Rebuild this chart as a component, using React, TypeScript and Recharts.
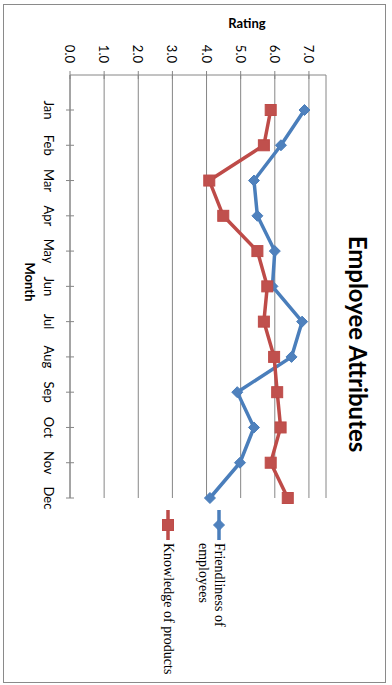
import React from 'react';
import { LineChart, Line, XAxis, YAxis, CartesianGrid, Legend, Label } from 'recharts';

const months = ['Jan', 'Feb', 'Mar', 'Apr', 'May', 'Jun', 'Jul', 'Aug', 'Sep', 'Oct', 'Nov', 'Dec'];
const friendliness = [6.87, 6.18, 5.39, 5.49, 6.0, 5.93, 6.8, 6.49, 4.9, 5.39, 4.98, 4.1];
const knowledge = [5.88, 5.68, 4.08, 4.49, 5.49, 5.78, 5.68, 5.98, 6.07, 6.17, 5.88, 6.38];
const ratingTicks = [0, 1, 2, 3, 4, 5, 6, 7];

const data = months.map((m, i) => ({ month: m, friendliness: friendliness[i], knowledge: knowledge[i] }));

const BLUE = '#4A7EBB';
const BLUE_M = '#4F81BD';
const RED = '#BE4B48';
const RED_M = '#C0504D';
const AXIS = '#868686';
const FONT = 'Lato, Calibri, sans-serif';
const SERIF = "'Liberation Serif', 'Times New Roman', serif";

const XTick = (props: any) => {
  const { x, y, payload } = props;
  return (
    <g>
      <line x1={x} x2={x} y1={y - 4} y2={y + 4} stroke={AXIS} strokeWidth={1} />
      <text x={x} y={y + 21} textAnchor="middle" dominantBaseline="central" fontFamily={FONT} fontSize={13} fill="#000">
        {payload.value}
      </text>
    </g>
  );
};

const YTick = (props: any) => {
  const { x, y, payload } = props;
  return (
    <g>
      <line x1={x - 4} x2={x + 4} y1={y} y2={y} stroke={AXIS} strokeWidth={1} />
      <text x={x - 12} y={y} textAnchor="end" dominantBaseline="central" fontFamily={FONT} fontSize={13} fill="#000">
        {Number(payload.value).toFixed(1)}
      </text>
    </g>
  );
};

const Diamond = (props: any) => {
  const { cx, cy, index } = props;
  if (cx == null || cy == null) return <g key={index} />;
  const r = 5.5;
  return <polygon key={index} points={`${cx},${cy - r} ${cx + r},${cy} ${cx},${cy + r} ${cx - r},${cy}`} fill={BLUE_M} stroke={BLUE} strokeWidth={1} />;
};

const Square = (props: any) => {
  const { cx, cy, index } = props;
  if (cx == null || cy == null) return <g key={index} />;
  const s = 11;
  return <rect key={index} x={cx - s / 2} y={cy - s / 2} width={s} height={s} fill={RED_M} stroke={RED} strokeWidth={1} />;
};

const LegendContent = () => (
  <svg width={175} height={100} style={{ overflow: 'visible', position: 'absolute', left: 0, top: 0 }}>
    <line x1={5} x2={35} y1={23} y2={23} stroke={BLUE} strokeWidth={3.5} />
    <polygon points="20,17.5 25.5,23 20,28.5 14.5,23" fill={BLUE_M} stroke={BLUE} />
    <text x={38} y={27} fontFamily={SERIF} fontSize={14} fill="#000">Friendliness of</text>
    <text x={38} y={43} fontFamily={SERIF} fontSize={14} fill="#000">employees</text>
    <line x1={5} x2={35} y1={74} y2={74} stroke={RED} strokeWidth={3.5} />
    <rect x={14.5} y={68.5} width={11} height={11} fill={RED_M} stroke={RED} />
    <text x={38} y={78} fontFamily={SERIF} fontSize={14} fill="#000">Knowledge of products</text>
  </svg>
);

export default function App() {
  return (
    <div style={{ position: 'absolute', left: 0, top: 0, width: 392, height: 685, background: '#fff', overflow: 'hidden' }}>
      <div style={{ position: 'absolute', left: 3, top: 4, width: 381, height: 677, border: '1px solid #8a8a8a' }} />
      <div
        style={{
          position: 'absolute',
          left: 0,
          top: 0,
          width: 685,
          height: 392,
          transformOrigin: '0 0',
          transform: 'translateX(392px) rotate(90deg)',
        }}
      >
        <LineChart width={685} height={392} data={data} margin={{ top: 66, right: 187, bottom: 40, left: 35 }}>
          <CartesianGrid horizontal={true} vertical={false} stroke={AXIS} strokeWidth={1} />
          <XAxis
            dataKey="month"
            padding={{ left: 35, right: 0 }}
            height={30}
            axisLine={{ stroke: AXIS, strokeWidth: 1 }}
            tickLine={false}
            tickSize={0}
            tickMargin={0}
            tick={<XTick />}
            interval={0}
          >
            <Label
              content={() => (
                <text x={282} y={362} textAnchor="middle" dominantBaseline="central" fontFamily={FONT} fontSize={13} fontWeight="bold" fill="#000">
                  Month
                </text>
              )}
            />
          </XAxis>
          <YAxis
            type="number"
            domain={[0, 7.5]}
            ticks={ratingTicks}
            width={40}
            axisLine={{ stroke: AXIS, strokeWidth: 1 }}
            tickLine={false}
            tickSize={0}
            tickMargin={0}
            tick={<YTick />}
            interval={0}
          >
            <Label
              content={() => (
                <text x={23} y={145} transform="rotate(-90 23 145)" textAnchor="middle" dominantBaseline="central" fontFamily={FONT} fontSize={13} fontWeight="bold" fill="#000">
                  Rating
                </text>
              )}
            />
          </YAxis>
          <Legend
            layout="horizontal"
            verticalAlign="middle"
            align="right"
            content={<LegendContent />}
            wrapperStyle={{ position: 'absolute', left: 505, top: 150, width: 0, height: 0, overflow: 'visible' }}
          />
          <Line
            type="linear"
            dataKey="friendliness"
            name="Friendliness of employees"
            stroke={BLUE}
            strokeWidth={3.5}
            dot={(p: any) => <Diamond {...p} key={`d${p.index}`} />}
            activeDot={false}
            isAnimationActive={false}
          />
          <Line
            type="linear"
            dataKey="knowledge"
            name="Knowledge of products"
            stroke={RED}
            strokeWidth={3.5}
            dot={(p: any) => <Square {...p} key={`s${p.index}`} />}
            activeDot={false}
            isAnimationActive={false}
          />
        </LineChart>
        <div
          style={{
            position: 'absolute',
            left: 44,
            top: 19,
            width: 600,
            textAlign: 'center',
            fontFamily: FONT,
            fontWeight: 'bold',
            fontSize: 24,
            lineHeight: '30px',
            color: '#000',
          }}
        >
          Employee Attributes
        </div>
      </div>
    </div>
  );
}
